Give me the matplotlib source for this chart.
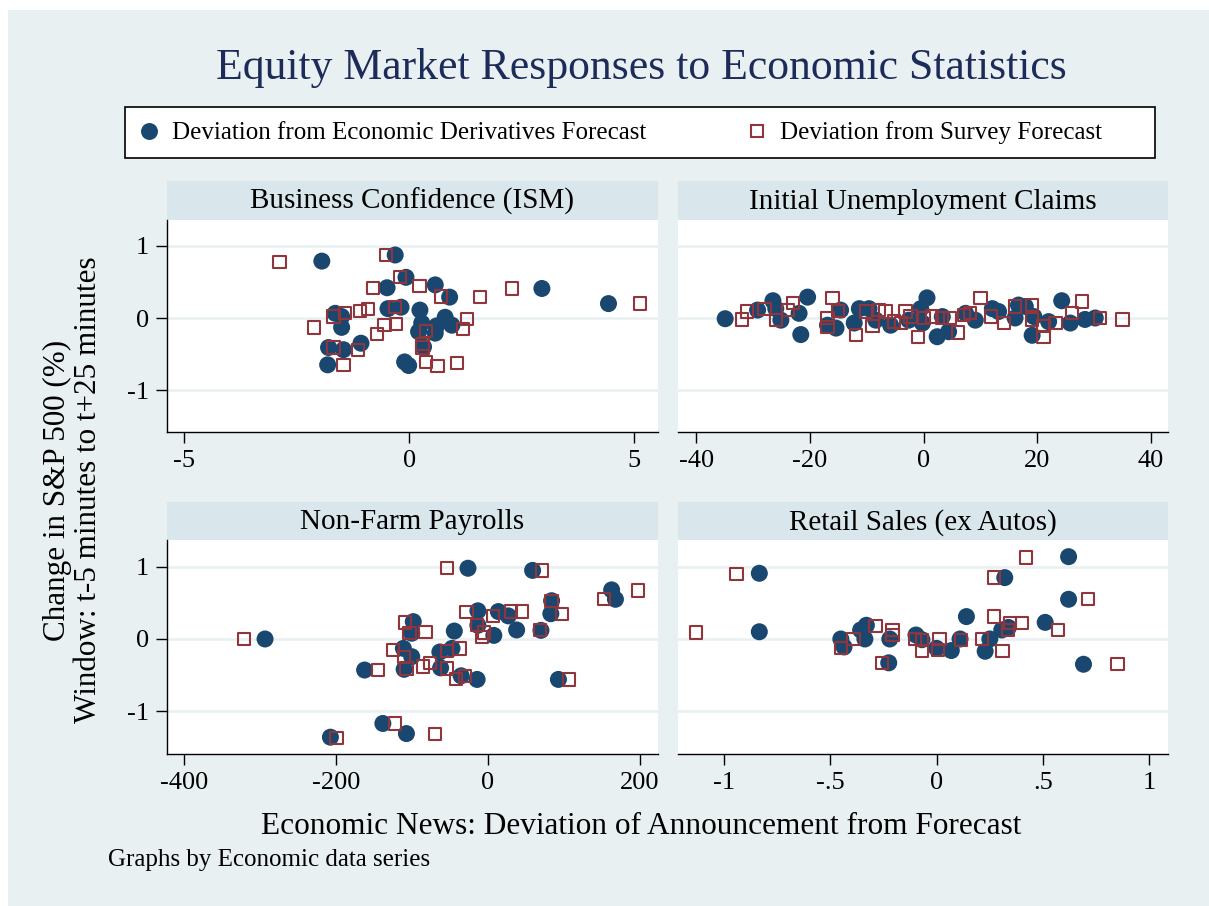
import matplotlib.pyplot as plt
from matplotlib.patches import Rectangle
from matplotlib.lines import Line2D

plt.rcParams['font.family'] = ['Liberation Serif', 'DejaVu Serif']

NAVY = '#1a476f'
MAROON = '#90353b'
BG = '#e8f0f2'
STRIP = '#d9e6eb'

# Business Confidence (ISM)
ism_deriv_x = [-1.94, -0.31, -0.07, -0.49, 0.58, 0.90, 2.95, 4.43, -0.47, -0.18, 0.24, -1.64, -1.50,
               0.80, 0.95, 0.28, 0.21, 0.58, 0.61, -1.50, -1.07, -1.79, -1.46, -1.81, -0.10, -0.01, 0.32]
ism_deriv_y = [0.79, 0.875, 0.565, 0.42, 0.46, 0.29, 0.41, 0.20, 0.13, 0.15, 0.11, 0.065, 0.02,
               0.01, -0.10, -0.07, -0.19, -0.21, -0.11, -0.13, -0.35, -0.41, -0.44, -0.65, -0.61, -0.66, -0.40]
ism_surv_x = [-2.88, -0.52, -0.21, -0.81, 0.23, 0.71, 2.28, 5.13, 1.58, -0.31, -0.92, -1.09, -1.42, -1.68,
              1.28, -2.11, -0.55, -0.29, -0.72, 1.19, 0.38, 0.30, 0.30, -1.68, -1.13, -1.46, 0.38, 0.63, 1.06]
ism_surv_y = [0.78, 0.875, 0.565, 0.42, 0.44, 0.30, 0.41, 0.20, 0.29, 0.15, 0.13, 0.10, 0.07, 0.02,
              -0.01, -0.13, -0.10, -0.08, -0.22, -0.15, -0.18, -0.36, -0.41, -0.41, -0.44, -0.65, -0.61, -0.67, -0.62]

# Initial Unemployment Claims
ic_deriv_x = [-34.9, -29.2, -26.5, -25.1, -26.0, -21.9, -20.4, -21.6, -16.9, -15.4, -14.6, -12.2, -11.3,
              -9.6, -8.4, -5.8, -2.6, -0.5, 0.6, -0.2, 2.4, 4.4, 3.3, 7.4, 9.1, 12.1, 13.2, 16.1, 16.7,
              17.9, 19.1, 19.4, 22.0, 24.3, 25.8, 28.4, 30.2]
ic_deriv_y = [-0.01, 0.11, 0.24, -0.03, 0.13, 0.065, 0.29, -0.23, -0.10, -0.14, 0.11, -0.07, 0.13,
              0.13, -0.03, -0.10, -0.03, 0.13, 0.28, -0.07, -0.26, -0.19, 0.02, 0.065, -0.03, 0.13, 0.09,
              0.0, 0.18, 0.16, -0.24, 0.02, -0.05, 0.24, -0.07, -0.02, 0.0]
ic_surv_x = [-32.0, -31.1, -28.0, -25.9, -23.9, -23.0, -16.9, -16.9, -16.0, -15.1, -11.9, -10.1, -9.0,
             -7.8, -6.7, -5.2, -4.0, -3.2, -2.3, -1.0, 0.1, 1.5, 3.3, 4.7, 6.1, 7.1, 8.2, 10.0, 11.8,
             14.1, 16.1, 19.1, 19.1, 21.1, 21.1, 23.2, 26.1, 27.9, 31.1, 35.0]
ic_surv_y = [-0.02, 0.09, 0.13, -0.03, 0.11, 0.21, 0.0, -0.12, 0.28, 0.10, -0.24, 0.09, -0.11,
             0.11, 0.09, -0.05, -0.07, 0.09, 0.02, -0.26, 0.0, 0.02, 0.0, 0.0, -0.20, 0.04, 0.065, 0.28, 0.02,
             -0.07, 0.16, 0.18, -0.02, -0.26, -0.11, -0.07, 0.065, 0.23, 0.0, -0.02]

# Non-Farm Payrolls
nfp_deriv_x = [-293, -207, -162, -138, -107, -98, -100, -111, -100, -110, -63, -62, -47, -44, -35, -14,
               -26, -13, -13, 8, 14, 27, 38, 59, 70, 83, 84, 93, 163, 168]
nfp_deriv_y = [0.0, -1.36, -0.43, -1.17, -1.31, 0.24, 0.08, -0.13, -0.245, -0.42, -0.18, -0.40, -0.13,
               0.11, -0.51, -0.56, 0.98, 0.39, 0.19, 0.05, 0.38, 0.32, 0.125, 0.95, 0.12, 0.35, 0.53,
               -0.56, 0.68, 0.55]
nfp_surv_x = [-321, -199, -144, -122, -69, -109, -103, -82, -125, -110, -107, -85, -76, -54, -54, -37,
              -42, -30, -54, -28, -14, -8, -5, 7, 31, 45, 69, 71, 84, 98, 107, 153, 198]
nfp_surv_y = [0.0, -1.37, -0.43, -1.17, -1.32, 0.23, 0.08, 0.10, -0.15, -0.245, -0.41, -0.38, -0.33,
              -0.17, -0.41, -0.13, -0.55, -0.51, 0.98, 0.37, 0.19, 0.03, 0.09, 0.32, 0.38, 0.38, 0.125,
              0.95, 0.53, 0.35, -0.56, 0.55, 0.67]

# Retail Sales (ex Autos)
rs_deriv_x = [-0.833, -0.833, -0.45, -0.435, -0.357, -0.33, -0.337, -0.22, -0.225, -0.097, -0.069, 0.0,
              0.069, 0.11, 0.14, 0.228, 0.25, 0.306, 0.337, 0.32, 0.51, 0.62, 0.62, 0.69]
rs_deriv_y = [0.91, 0.10, 0.0, -0.11, 0.125, 0.19, 0.0, 0.0, -0.33, 0.055, -0.01, -0.13,
              -0.16, 0.0, 0.31, -0.17, 0.0, 0.125, 0.16, 0.85, 0.23, 0.55, 1.14, -0.35]
rs_surv_x = [-1.13, -0.94, -0.448, -0.39, -0.287, -0.256, -0.207, -0.207, -0.10, -0.069, -0.069, 0.005,
             0.014, 0.114, 0.212, 0.27, 0.27, 0.31, 0.337, 0.345, 0.40, 0.42, 0.57, 0.71, 0.85]
rs_surv_y = [0.09, 0.90, -0.12, 0.0, 0.18, -0.33, 0.125, 0.055, 0.0, -0.17, -0.01, -0.15,
             0.0, -0.01, 0.0, 0.31, 0.85, -0.17, 0.125, 0.22, 0.22, 1.13, 0.125, 0.55, -0.35]

panels = [
    ('Business Confidence (ISM)', ism_deriv_x, ism_deriv_y, ism_surv_x, ism_surv_y,
     [-5, 0, 5], ['-5', '0', '5'], (-5.38, 5.53)),
    ('Initial Unemployment Claims', ic_deriv_x, ic_deriv_y, ic_surv_x, ic_surv_y,
     [-40, -20, 0, 20, 40], ['-40', '-20', '0', '20', '40'], (-43.2, 43.0)),
    ('Non-Farm Payrolls', nfp_deriv_x, nfp_deriv_y, nfp_surv_x, nfp_surv_y,
     [-400, -200, 0, 200], ['-400', '-200', '0', '200'], (-422, 224)),
    ('Retail Sales (ex Autos)', rs_deriv_x, rs_deriv_y, rs_surv_x, rs_surv_y,
     [-1, -0.5, 0, 0.5, 1], ['-1', '-.5', '0', '.5', '1'], (-1.215, 1.087)),
]

W, H = 1209, 906
fig = plt.figure(figsize=(W / 100, H / 100), dpi=100)
fig.patch.set_facecolor('white')
fig.patches.append(Rectangle((8 / W, 0), 1 - 8 / W, 1 - 10 / H, transform=fig.transFigure,
                             facecolor=BG, edgecolor='none', zorder=-10))


def px_box(x0, y0, x1, y1):
    return [x0 / W, 1 - y1 / H, (x1 - x0) / W, (y1 - y0) / H]


cols = [(167, 658), (678, 1168)]
rows = [(181, 220, 432), (502, 540, 754)]

for i, (name, dx, dy, sx, sy, ticks, labels, xlim) in enumerate(panels):
    r, c = divmod(i, 2)
    x0, x1 = cols[c]
    s0, p0, p1 = rows[r]

    strip = fig.add_axes(px_box(x0, s0, x1, p0))
    strip.set_facecolor(STRIP)
    strip.set_xticks([])
    strip.set_yticks([])
    for sp in strip.spines.values():
        sp.set_visible(False)
    strip.text(0.5, 0.47, name, ha='center', va='center', fontsize=21, transform=strip.transAxes)

    ax = fig.add_axes(px_box(x0, p0, x1, p1))
    ax.set_facecolor('white')
    ax.scatter(dx, dy, s=150, color=NAVY, edgecolors='none', zorder=3)
    ax.scatter(sx, sy, s=78, marker='s', facecolors='none', edgecolors=MAROON, linewidths=1.5, zorder=4)
    ax.set_xlim(*xlim)
    if r == 0:
        ax.set_ylim(-1.583, 1.361)
    else:
        ax.set_ylim(-1.593, 1.371)
    ax.set_xticks(ticks)
    ax.set_xticklabels(labels)
    ax.set_yticks([-1, 0, 1])
    ax.grid(axis='y', color=BG, linewidth=1.8, zorder=0)
    ax.set_axisbelow(True)
    ax.spines['top'].set_visible(False)
    ax.spines['right'].set_visible(False)
    ax.spines['bottom'].set_linewidth(1.0)
    ax.spines['left'].set_linewidth(1.0)
    ax.tick_params(axis='x', length=8, width=1.0, pad=5, labelsize=19)
    if c == 0:
        ax.set_yticklabels(['-1', '0', '1'])
        ax.tick_params(axis='y', length=8, width=1.0, pad=5, labelsize=19)
    else:
        ax.spines['left'].set_visible(False)
        ax.tick_params(axis='y', left=False, labelleft=False)

# title
fig.text(641 / W, 1 - 68 / H, 'Equity Market Responses to Economic Statistics',
         ha='center', va='center', fontsize=31.5, color='#1c2b5a')

# legend box
fig.patches.append(Rectangle((125 / W, 1 - 158 / H), (1155 - 125) / W, (158 - 107) / H,
                             transform=fig.transFigure, facecolor='white', edgecolor='black',
                             linewidth=1.2, zorder=1))
h1 = Line2D([], [], marker='o', linestyle='none', markersize=12.2, color=NAVY, markeredgecolor='none')
h2 = Line2D([], [], marker='s', linestyle='none', markersize=8.8, markerfacecolor='none',
            markeredgecolor=MAROON, markeredgewidth=1.5)
fig.legend([h1], ['Deviation from Economic Derivatives Forecast'], loc='center left',
           bbox_to_anchor=(126 / W, 1 - 133 / H), frameon=False, fontsize=18,
           handletextpad=0.45, handlelength=1.0, borderaxespad=0)
fig.legend([h2], ['Deviation from Survey Forecast'], loc='center left',
           bbox_to_anchor=(734 / W, 1 - 133 / H), frameon=False, fontsize=18,
           handletextpad=0.45, handlelength=1.0, borderaxespad=0)

# axis titles
fig.text(57 / W, 1 - 490 / H, 'Change in S&P 500 (%)', rotation=90, ha='center', va='center', fontsize=22.4)
fig.text(88 / W, 1 - 490 / H, 'Window: t-5 minutes to t+25 minutes', rotation=90, ha='center',
         va='center', fontsize=22.4)
fig.text(641 / W, 1 - 826 / H, 'Economic News: Deviation of Announcement from Forecast',
         ha='center', va='center', fontsize=22.5)
fig.text(108 / W, 1 - 860 / H, 'Graphs by Economic data series', ha='left', va='center', fontsize=18)

fig.savefig('out.png', dpi=100, facecolor=fig.get_facecolor())
